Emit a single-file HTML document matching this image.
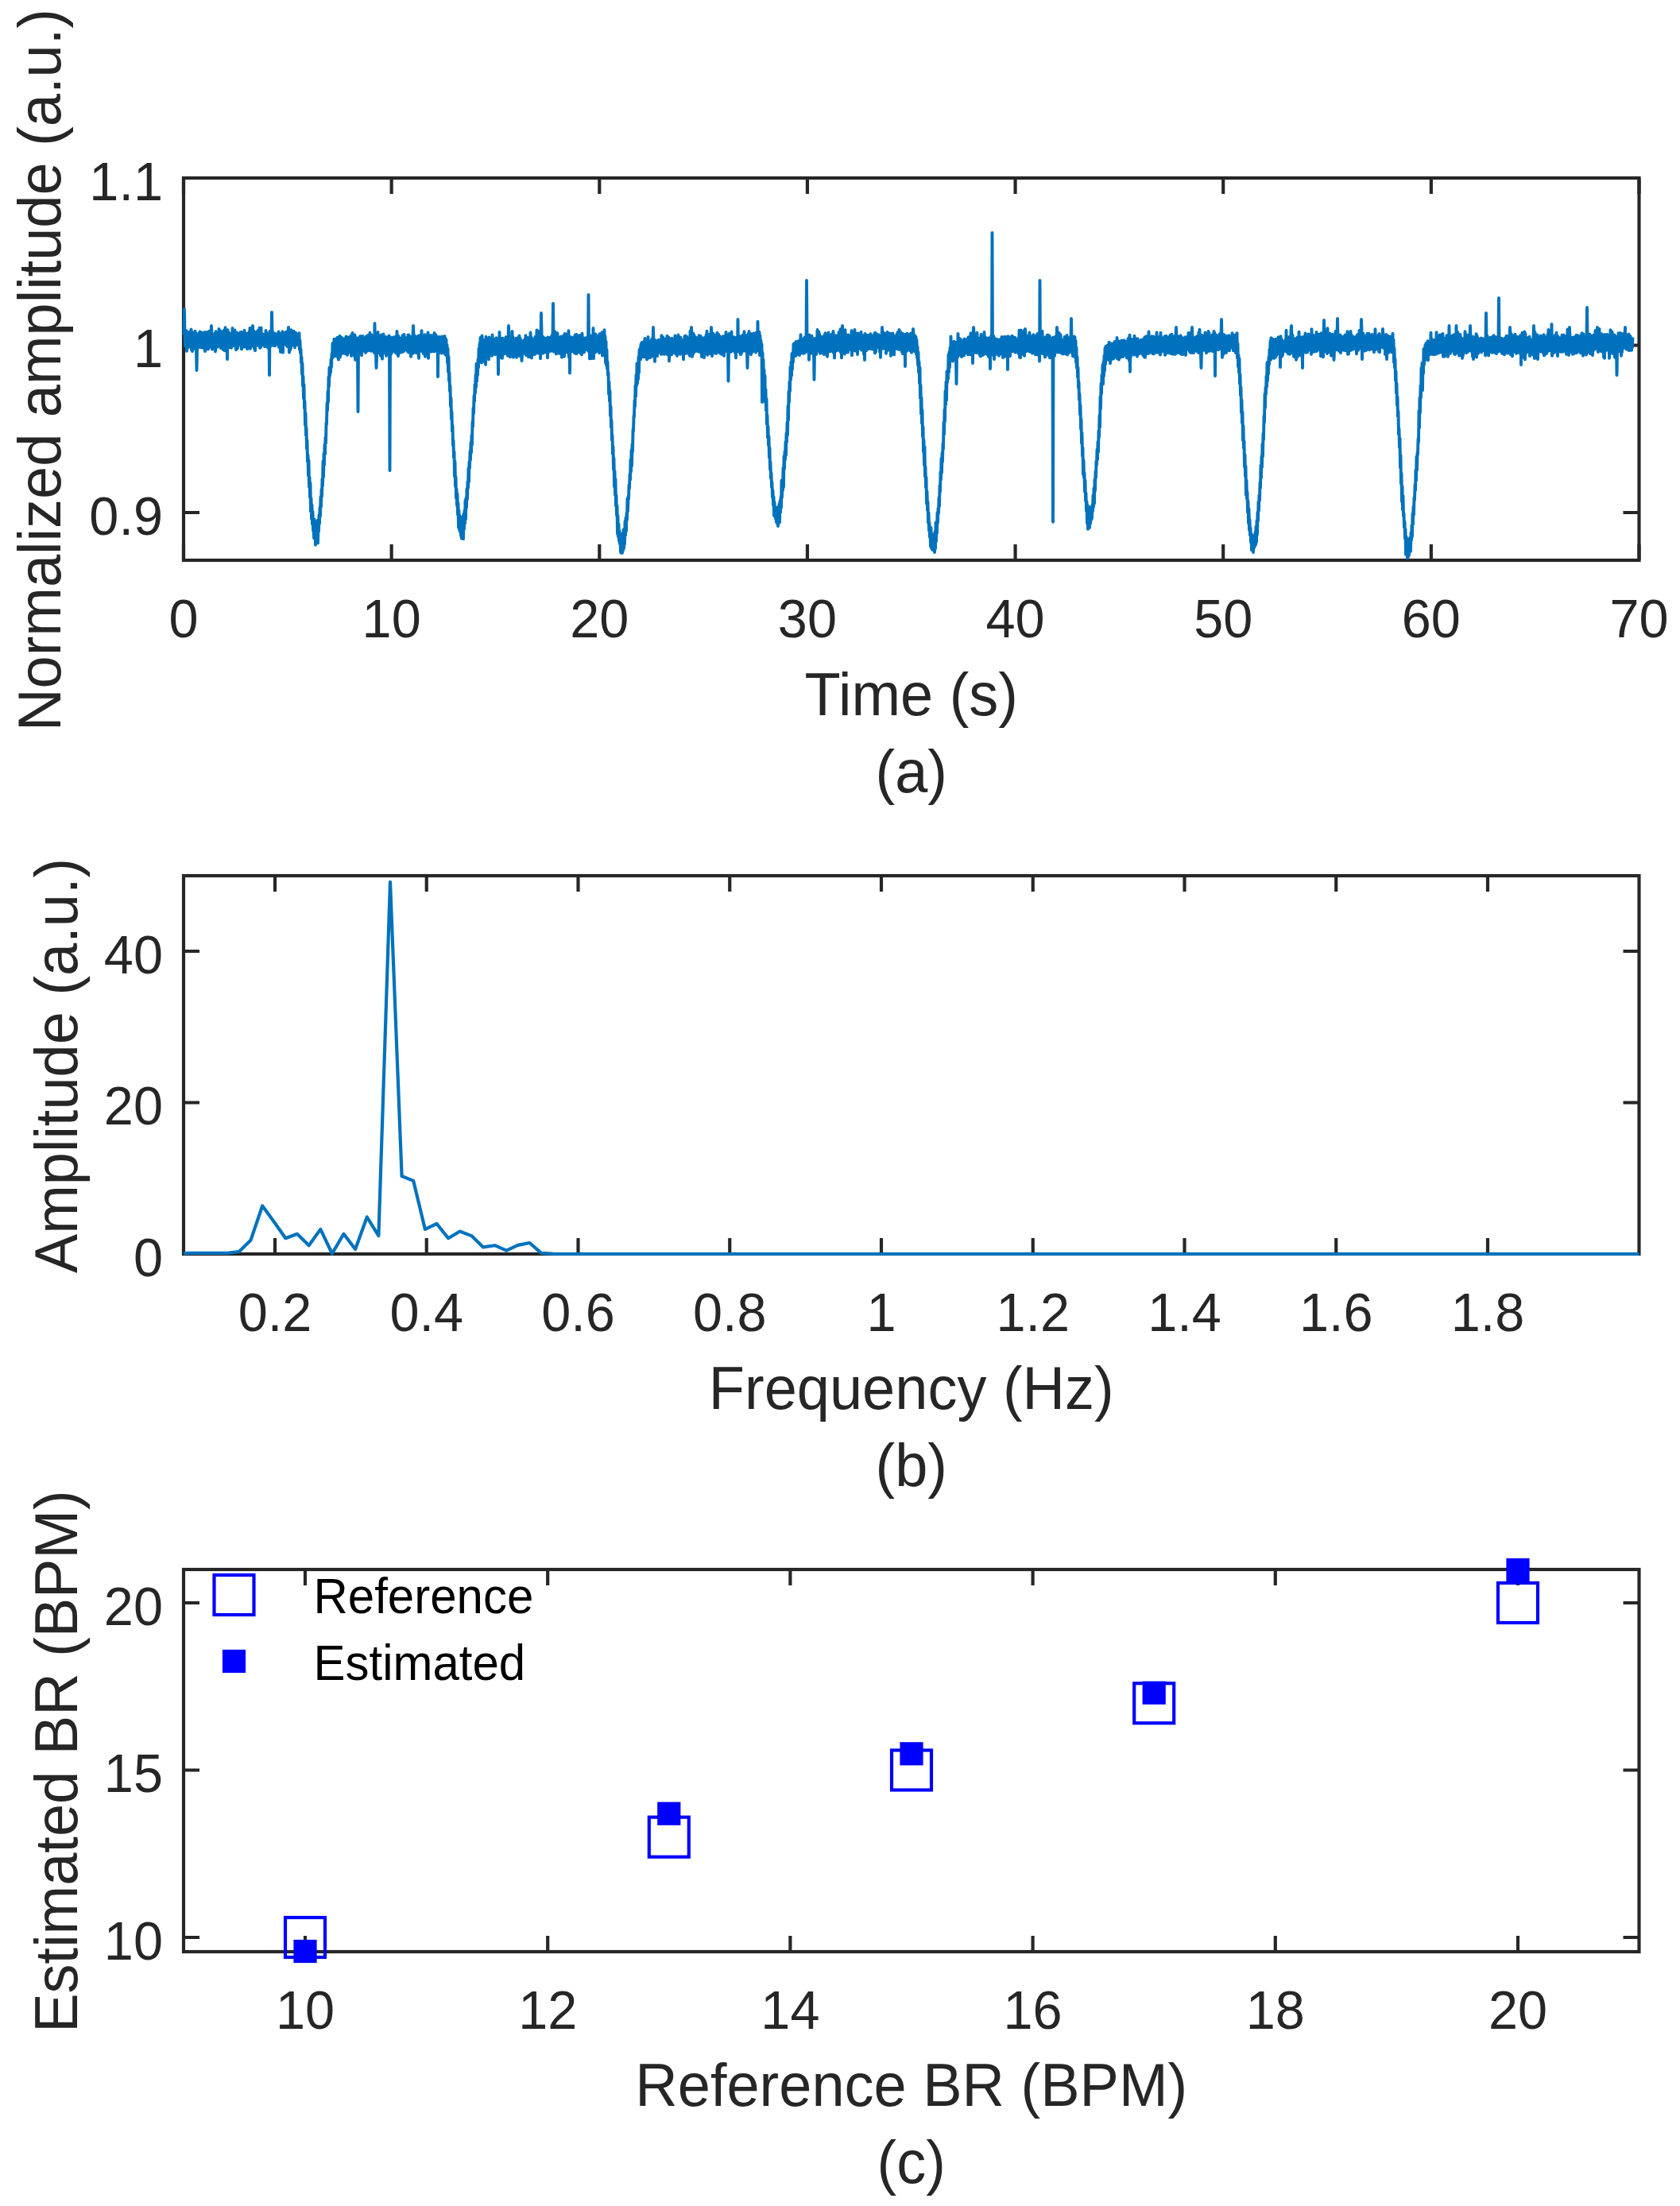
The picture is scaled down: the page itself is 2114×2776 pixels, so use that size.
<!DOCTYPE html>
<html lang="en"><head><meta charset="utf-8"><title>Figure</title>
<style>
html,body{margin:0;padding:0;background:#fff;overflow:hidden}
svg{display:block}
text{font-family:"Liberation Sans", Arial, Helvetica, sans-serif;white-space:pre}
</style></head>
<body>
<svg width="2114" height="2776" viewBox="0 0 2114 2776">
<rect width="2114" height="2776" fill="#fff"/>
<!-- panel a -->
<path d="M231.00 705.00v-20M231.00 224.00v20M492.64 705.00v-20M492.64 224.00v20M754.29 705.00v-20M754.29 224.00v20M1015.93 705.00v-20M1015.93 224.00v20M1277.57 705.00v-20M1277.57 224.00v20M1539.21 705.00v-20M1539.21 224.00v20M1800.86 705.00v-20M1800.86 224.00v20M2062.50 705.00v-20M2062.50 224.00v20M231.00 224.00h20M2062.50 224.00h-20M231.00 434.50h20M2062.50 434.50h-20M231.00 645.00h20M2062.50 645.00h-20" stroke="#262626" stroke-width="4.17" fill="none"/>
<rect x="231.00" y="224.00" width="1831.50" height="481.00" fill="none" stroke="#262626" stroke-width="4.17"/>
<g font-size="66.67" fill="#262626">
<g text-anchor="middle">
<text transform="translate(231.00 801.50) scale(1 1.035)">0</text>
<text transform="translate(492.64 801.50) scale(1 1.035)">10</text>
<text transform="translate(754.29 801.50) scale(1 1.035)">20</text>
<text transform="translate(1015.93 801.50) scale(1 1.035)">30</text>
<text transform="translate(1277.57 801.50) scale(1 1.035)">40</text>
<text transform="translate(1539.21 801.50) scale(1 1.035)">50</text>
<text transform="translate(1800.86 801.50) scale(1 1.035)">60</text>
<text transform="translate(2062.50 801.50) scale(1 1.035)">70</text>
</g><g text-anchor="end">
<text transform="translate(205.00 251.50) scale(1 1.035)">1.1</text>
<text transform="translate(205.00 462.00) scale(1 1.035)">1</text>
<text transform="translate(205.00 672.50) scale(1 1.035)">0.9</text>
</g></g>
<g font-size="74" fill="#262626" text-anchor="middle">
<text transform="translate(1146.75 899.50) scale(1 1.035)">Time (s)</text>
<text transform="translate(1146.75 997.00) scale(1 1.035)">(a)</text>
<text transform="translate(76.00 465.50) rotate(-90) scale(1 1.035)">Normalized amplitude (a.u.)</text>
</g>
<polyline points="231.5,421.3 232.0,389.0 232.5,422.3 233.0,435.4 233.5,422.2 234.0,436.1 234.5,416.3 235.0,441.7 235.5,422.9 236.0,437.7 236.5,418.4 237.0,436.9 237.5,418.0 238.0,435.8 238.5,420.9 239.0,435.9 239.5,418.9 240.0,436.3 240.5,414.4 241.0,440.3 241.5,417.4 242.0,442.0 242.5,419.3 243.0,435.0 243.5,423.6 244.0,434.4 244.5,419.1 245.0,436.2 245.5,416.8 246.0,439.7 246.5,419.2 247.0,439.1 247.5,466.0 248.0,440.2 248.5,420.7 249.0,437.0 249.5,421.6 250.0,435.6 250.5,419.2 251.0,436.8 251.5,417.4 252.0,435.9 252.5,421.3 253.0,437.4 253.5,418.2 254.0,437.0 254.5,421.5 255.0,437.3 255.5,420.1 256.0,438.0 256.5,418.9 257.0,436.0 257.5,417.9 258.0,442.0 258.5,421.2 259.0,439.8 259.5,420.4 260.0,438.5 260.5,417.9 261.0,436.2 261.5,417.9 262.0,439.4 262.5,420.9 263.0,436.3 263.5,416.6 264.0,433.8 264.5,420.0 265.0,436.7 265.5,420.4 266.0,410.0 266.5,421.7 267.0,439.6 267.5,420.1 268.0,435.1 268.5,421.0 269.0,437.7 269.5,420.4 270.0,437.5 270.5,419.4 271.0,442.3 271.5,417.3 272.0,436.3 272.5,419.1 273.0,436.0 273.5,420.9 274.0,436.6 274.5,418.4 275.0,435.8 275.5,413.9 276.0,434.4 276.5,420.0 277.0,435.0 277.5,416.5 278.0,438.1 278.5,421.1 279.0,432.3 279.5,420.9 280.0,437.1 280.5,419.6 281.0,440.2 281.5,415.9 282.0,435.1 282.5,417.9 283.0,441.4 283.5,412.2 284.0,436.8 284.5,418.8 285.0,436.8 285.5,419.2 286.0,452.0 286.5,415.2 287.0,434.6 287.5,417.8 288.0,437.1 288.5,420.8 289.0,433.4 289.5,419.9 290.0,432.8 290.5,421.3 291.0,437.7 291.5,420.0 292.0,435.2 292.5,413.0 293.0,434.9 293.5,420.5 294.0,434.4 294.5,419.6 295.0,435.4 295.5,415.4 296.0,434.3 296.5,418.4 297.0,440.1 297.5,418.6 298.0,433.8 298.5,418.8 299.0,438.2 299.5,419.7 300.0,434.3 300.5,420.9 301.0,432.8 301.5,419.4 302.0,434.4 302.5,417.9 303.0,433.8 303.5,417.7 304.0,439.4 304.5,421.4 305.0,436.4 305.5,419.9 306.0,435.6 306.5,419.6 307.0,436.8 307.5,415.8 308.0,435.4 308.5,418.9 309.0,436.3 309.5,420.3 310.0,434.5 310.5,421.1 311.0,439.0 311.5,419.8 312.0,436.1 312.5,419.2 313.0,438.3 313.5,417.4 314.0,438.3 314.5,412.8 315.0,438.8 315.5,419.7 316.0,433.1 316.5,419.3 317.0,435.4 317.5,419.4 318.0,410.0 318.5,419.8 319.0,433.5 319.5,416.8 320.0,438.5 320.5,420.0 321.0,441.1 321.5,418.8 322.0,433.9 322.5,422.0 323.0,433.2 323.5,417.2 324.0,434.7 324.5,415.9 325.0,432.6 325.5,418.0 326.0,434.6 326.5,412.7 327.0,437.8 327.5,417.2 328.0,437.2 328.5,412.5 329.0,433.0 329.5,420.3 330.0,432.7 330.5,421.0 331.0,434.1 331.5,420.8 332.0,432.9 332.5,422.3 333.0,436.2 333.5,421.3 334.0,434.4 334.5,415.9 335.0,435.3 335.5,418.5 336.0,435.8 336.5,420.1 337.0,437.6 337.5,420.2 338.0,436.9 338.5,420.2 339.0,472.0 339.5,416.9 340.0,436.5 340.5,419.9 341.0,434.9 341.5,421.4 342.0,393.0 342.5,418.4 343.0,434.4 343.5,418.1 344.0,434.8 344.5,419.6 345.0,434.8 345.5,419.6 346.0,435.2 346.5,420.0 347.0,432.9 347.5,421.6 348.0,433.3 348.5,421.9 349.0,432.8 349.5,419.9 350.0,433.8 350.5,417.5 351.0,437.0 351.5,418.9 352.0,435.6 352.5,420.9 353.0,442.9 353.5,421.3 354.0,431.1 354.5,421.8 355.0,430.3 355.5,417.3 356.0,443.5 356.5,420.4 357.0,431.3 357.5,420.3 358.0,432.1 358.5,422.2 359.0,432.8 359.5,417.9 360.0,433.7 360.5,418.9 361.0,435.4 361.5,417.3 362.0,436.2 362.5,417.4 363.0,412.0 363.5,415.2 364.0,443.5 364.5,417.7 365.0,440.8 365.5,418.4 366.0,438.2 366.5,415.3 367.0,434.8 367.5,421.0 368.0,433.7 368.5,420.0 369.0,433.5 369.5,416.6 370.0,434.8 370.5,418.0 371.0,437.2 371.5,418.7 372.0,434.5 372.5,418.9 373.0,431.9 373.5,422.4 374.0,433.6 374.5,421.8 375.0,432.1 375.5,421.1 376.0,435.3 376.5,419.2 377.0,440.0 377.5,428.5 378.0,444.1 378.5,439.3 379.0,456.2 379.5,449.3 380.0,470.8 380.5,457.2 381.0,485.4 381.5,473.6 382.0,501.4 382.5,484.0 383.0,513.6 383.5,505.1 384.0,535.0 384.5,519.9 385.0,547.8 385.5,538.5 386.0,564.7 386.5,554.5 387.0,580.7 387.5,572.7 388.0,598.5 388.5,579.1 389.0,612.7 389.5,600.6 390.0,625.4 390.5,607.6 391.0,643.5 391.5,627.0 392.0,652.9 392.5,635.3 393.0,659.5 393.5,643.9 394.0,667.5 394.5,653.1 395.0,677.0 395.5,653.4 396.0,677.7 396.5,661.4 397.0,685.6 397.5,662.4 398.0,679.2 398.5,658.0 399.0,679.2 399.5,654.9 400.0,683.4 400.5,654.5 401.0,669.0 401.5,648.1 402.0,658.9 402.5,638.7 403.0,649.6 403.5,625.1 404.0,637.7 404.5,616.3 405.0,624.6 405.5,602.6 406.0,611.1 406.5,580.4 407.0,600.1 407.5,570.9 408.0,585.2 408.5,559.8 409.0,571.5 409.5,550.5 410.0,557.6 410.5,532.0 411.0,534.2 411.5,507.4 412.0,516.4 412.5,493.0 413.0,506.2 413.5,474.5 414.0,486.2 414.5,462.5 415.0,473.2 415.5,463.9 416.0,468.5 416.5,452.5 417.0,462.3 417.5,445.2 418.0,451.0 418.5,432.0 419.0,449.2 419.5,433.0 420.0,448.6 420.5,426.6 421.0,448.2 421.5,426.6 422.0,447.8 422.5,432.0 423.0,445.1 423.5,431.0 424.0,445.5 424.5,424.6 425.0,449.8 425.5,425.9 426.0,452.5 426.5,428.3 427.0,446.0 427.5,422.7 428.0,449.3 428.5,428.4 429.0,444.5 429.5,424.4 430.0,444.9 430.5,428.2 431.0,444.4 431.5,426.2 432.0,444.5 432.5,429.5 433.0,442.7 433.5,426.4 434.0,445.0 434.5,427.6 435.0,443.6 435.5,423.4 436.0,443.3 436.5,428.0 437.0,446.7 437.5,425.7 438.0,444.1 438.5,424.5 439.0,441.4 439.5,427.5 440.0,442.0 440.5,426.6 441.0,441.6 441.5,422.1 442.0,447.8 442.5,425.6 443.0,444.7 443.5,418.9 444.0,445.3 444.5,426.2 445.0,446.5 445.5,422.1 446.0,448.1 446.5,421.4 447.0,452.7 447.5,424.8 448.0,447.4 448.5,425.2 449.0,448.1 449.5,425.7 450.0,448.1 450.5,518.0 451.0,442.6 451.5,425.3 452.0,443.5 452.5,424.0 453.0,441.2 453.5,423.0 454.0,442.3 454.5,423.5 455.0,447.1 455.5,426.9 456.0,439.9 456.5,422.9 457.0,441.6 457.5,425.3 458.0,441.3 458.5,426.8 459.0,441.8 459.5,427.1 460.0,443.9 460.5,423.8 461.0,440.2 461.5,423.0 462.0,441.7 462.5,427.7 463.0,439.3 463.5,421.7 464.0,440.8 464.5,425.8 465.0,440.7 465.5,418.7 466.0,441.5 466.5,422.1 467.0,440.9 467.5,421.5 468.0,441.6 468.5,426.0 469.0,440.2 469.5,425.4 470.0,441.5 470.5,424.3 471.0,444.0 471.5,407.0 472.0,444.4 472.5,420.4 473.0,445.7 473.5,463.0 474.0,451.4 474.5,421.8 475.0,444.7 475.5,418.0 476.0,443.0 476.5,424.1 477.0,442.1 477.5,425.2 478.0,443.9 478.5,422.9 479.0,447.6 479.5,421.4 480.0,443.8 480.5,424.3 481.0,451.6 481.5,425.4 482.0,445.0 482.5,420.4 483.0,440.3 483.5,426.0 484.0,440.8 484.5,426.1 485.0,441.3 485.5,423.9 486.0,447.8 486.5,425.2 487.0,441.4 487.5,424.4 488.0,444.8 488.5,424.4 489.0,442.9 489.5,422.5 490.0,440.6 490.5,592.0 491.0,443.9 491.5,424.4 492.0,445.7 492.5,428.5 493.0,438.1 493.5,428.5 494.0,442.9 494.5,424.6 495.0,440.2 495.5,424.3 496.0,440.3 496.5,425.0 497.0,441.4 497.5,424.0 498.0,443.9 498.5,423.4 499.0,444.8 499.5,416.9 500.0,445.2 500.5,423.9 501.0,448.0 501.5,423.0 502.0,442.4 502.5,426.2 503.0,444.0 503.5,425.6 504.0,441.9 504.5,427.4 505.0,439.3 505.5,425.6 506.0,443.2 506.5,422.2 507.0,442.4 507.5,424.3 508.0,442.1 508.5,420.9 509.0,439.5 509.5,427.2 510.0,438.3 510.5,425.1 511.0,439.9 511.5,426.9 512.0,440.9 512.5,424.8 513.0,442.2 513.5,421.5 514.0,443.5 514.5,421.8 515.0,442.1 515.5,422.9 516.0,442.5 516.5,427.1 517.0,448.8 517.5,425.9 518.0,437.6 518.5,423.7 519.0,445.0 519.5,425.5 520.0,410.0 520.5,420.3 521.0,439.8 521.5,425.3 522.0,443.8 522.5,423.0 523.0,438.0 523.5,426.8 524.0,440.4 524.5,424.5 525.0,444.3 525.5,425.9 526.0,439.7 526.5,422.4 527.0,450.8 527.5,422.8 528.0,441.1 528.5,422.8 529.0,440.1 529.5,421.6 530.0,438.3 530.5,416.1 531.0,442.2 531.5,424.8 532.0,439.8 532.5,424.2 533.0,445.1 533.5,423.4 534.0,442.0 534.5,421.1 535.0,448.7 535.5,423.6 536.0,439.9 536.5,423.1 537.0,441.5 537.5,424.9 538.0,441.1 538.5,418.4 539.0,450.7 539.5,423.1 540.0,442.4 540.5,422.1 541.0,440.9 541.5,422.6 542.0,442.5 542.5,421.9 543.0,442.2 543.5,422.9 544.0,438.8 544.5,422.4 545.0,440.8 545.5,422.6 546.0,442.3 546.5,419.0 547.0,442.1 547.5,420.4 548.0,438.6 548.5,421.4 549.0,438.2 549.5,426.1 550.0,439.2 550.5,424.3 551.0,474.0 551.5,424.2 552.0,444.0 552.5,424.0 553.0,441.2 553.5,423.9 554.0,440.1 554.5,425.0 555.0,444.1 555.5,425.1 556.0,444.5 556.5,423.5 557.0,440.9 557.5,424.1 558.0,439.9 558.5,424.4 559.0,442.1 559.5,422.9 560.0,445.7 560.5,425.7 561.0,438.3 561.5,427.5 562.0,447.7 562.5,434.2 563.0,456.3 563.5,438.7 564.0,467.8 564.5,448.7 565.0,479.3 565.5,468.9 566.0,492.1 566.5,485.5 567.0,511.2 567.5,501.0 568.0,527.2 568.5,518.3 569.0,542.8 569.5,535.6 570.0,560.4 570.5,554.3 571.0,576.0 571.5,569.0 572.0,599.7 572.5,580.7 573.0,612.0 573.5,600.0 574.0,626.8 574.5,615.5 575.0,636.3 575.5,621.7 576.0,647.5 576.5,633.2 577.0,663.6 577.5,642.8 578.0,666.8 578.5,649.2 579.0,669.4 579.5,655.8 580.0,674.2 580.5,653.8 581.0,677.6 581.5,652.6 582.0,673.2 582.5,649.3 583.0,678.1 583.5,646.6 584.0,666.0 584.5,642.7 585.0,658.6 585.5,629.5 586.0,653.3 586.5,626.4 587.0,638.8 587.5,615.0 588.0,628.2 588.5,606.1 589.0,614.2 589.5,589.3 590.0,606.4 590.5,581.1 591.0,588.7 591.5,568.1 592.0,578.8 592.5,557.1 593.0,569.4 593.5,547.8 594.0,559.4 594.5,530.8 595.0,536.8 595.5,513.5 596.0,520.2 596.5,498.0 597.0,505.2 597.5,484.1 598.0,494.8 598.5,472.0 599.0,487.4 599.5,457.6 600.0,479.7 600.5,462.3 601.0,472.3 601.5,452.5 602.0,462.5 602.5,438.6 603.0,455.5 603.5,432.3 604.0,451.7 604.5,425.0 605.0,451.9 605.5,431.0 606.0,456.4 606.5,422.4 607.0,450.4 607.5,431.8 608.0,454.9 608.5,431.9 609.0,450.5 609.5,428.0 610.0,452.3 610.5,429.1 611.0,458.7 611.5,423.7 612.0,447.0 612.5,426.4 613.0,447.6 613.5,432.1 614.0,446.9 614.5,429.0 615.0,452.2 615.5,424.4 616.0,446.7 616.5,430.3 617.0,444.0 617.5,432.9 618.0,444.0 618.5,432.5 619.0,447.8 619.5,421.5 620.0,442.8 620.5,433.1 621.0,443.2 621.5,428.0 622.0,445.2 622.5,426.7 623.0,446.1 623.5,428.6 624.0,444.3 624.5,425.1 625.0,443.4 625.5,432.0 626.0,443.9 626.5,428.8 627.0,471.0 627.5,425.7 628.0,443.8 628.5,418.0 629.0,446.7 629.5,427.8 630.0,446.8 630.5,426.1 631.0,450.4 631.5,425.7 632.0,450.7 632.5,425.6 633.0,445.4 633.5,428.0 634.0,445.5 634.5,428.2 635.0,443.5 635.5,429.7 636.0,443.4 636.5,424.1 637.0,445.1 637.5,429.1 638.0,445.2 638.5,423.9 639.0,447.7 639.5,427.7 640.0,410.0 640.5,425.3 641.0,445.3 641.5,426.3 642.0,449.2 642.5,428.0 643.0,445.6 643.5,426.0 644.0,444.6 644.5,416.9 645.0,445.4 645.5,424.0 646.0,449.6 646.5,427.9 647.0,445.4 647.5,428.3 648.0,444.9 648.5,427.0 649.0,445.4 649.5,425.6 650.0,449.8 650.5,429.4 651.0,444.2 651.5,426.8 652.0,446.0 652.5,424.2 653.0,447.4 653.5,422.5 654.0,448.0 654.5,425.6 655.0,446.7 655.5,428.2 656.0,441.4 656.5,454.0 657.0,446.5 657.5,429.2 658.0,442.4 658.5,428.9 659.0,444.6 659.5,428.6 660.0,443.2 660.5,426.7 661.0,443.2 661.5,422.3 662.0,447.0 662.5,425.5 663.0,441.8 663.5,425.7 664.0,447.0 664.5,424.9 665.0,449.1 665.5,425.7 666.0,445.0 666.5,425.2 667.0,448.7 667.5,418.5 668.0,444.9 668.5,424.3 669.0,450.4 669.5,426.1 670.0,446.6 670.5,429.1 671.0,439.3 671.5,427.9 672.0,443.8 672.5,426.8 673.0,445.9 673.5,423.6 674.0,443.9 674.5,426.1 675.0,443.8 675.5,415.4 676.0,444.3 676.5,427.1 677.0,443.0 677.5,417.3 678.0,444.4 678.5,417.2 679.0,442.9 679.5,426.2 680.0,451.1 680.5,423.6 681.0,394.0 681.5,416.9 682.0,444.1 682.5,423.7 683.0,444.6 683.5,423.9 684.0,444.2 684.5,425.3 685.0,442.5 685.5,426.9 686.0,441.7 686.5,425.6 687.0,443.3 687.5,426.8 688.0,441.8 688.5,425.3 689.0,450.1 689.5,424.4 690.0,443.2 690.5,427.3 691.0,439.3 691.5,428.2 692.0,439.2 692.5,424.8 693.0,441.9 693.5,426.4 694.0,440.2 694.5,421.9 695.0,441.1 695.5,426.0 696.0,382.0 696.5,426.1 697.0,442.8 697.5,423.2 698.0,440.4 698.5,417.4 699.0,442.0 699.5,421.6 700.0,445.4 700.5,421.9 701.0,444.0 701.5,419.3 702.0,443.6 702.5,424.5 703.0,441.0 703.5,428.2 704.0,444.9 704.5,424.2 705.0,442.7 705.5,427.3 706.0,444.1 706.5,423.4 707.0,449.6 707.5,423.5 708.0,445.2 708.5,426.2 709.0,444.5 709.5,422.2 710.0,448.5 710.5,420.0 711.0,441.7 711.5,423.3 712.0,442.8 712.5,420.4 713.0,442.3 713.5,425.8 714.0,443.8 714.5,426.4 715.0,441.0 715.5,416.2 716.0,449.5 716.5,425.0 717.0,469.6 717.5,426.7 718.0,441.6 718.5,424.1 719.0,442.2 719.5,425.6 720.0,442.3 720.5,425.9 721.0,440.0 721.5,424.8 722.0,440.9 722.5,425.3 723.0,444.3 723.5,421.6 724.0,442.8 724.5,421.2 725.0,445.1 725.5,421.0 726.0,442.3 726.5,424.3 727.0,440.2 727.5,422.2 728.0,443.5 728.5,423.9 729.0,443.0 729.5,424.7 730.0,443.0 730.5,421.9 731.0,445.0 731.5,423.5 732.0,446.3 732.5,419.6 733.0,439.8 733.5,426.2 734.0,440.5 734.5,425.3 735.0,443.2 735.5,427.2 736.0,438.8 736.5,425.7 737.0,438.9 737.5,425.2 738.0,439.6 738.5,425.2 739.0,440.2 739.5,423.7 740.0,441.8 740.5,371.0 741.0,441.9 741.5,423.4 742.0,451.4 742.5,423.0 743.0,445.8 743.5,422.4 744.0,451.1 744.5,423.8 745.0,441.4 745.5,422.8 746.0,441.4 746.5,413.0 747.0,451.0 747.5,425.6 748.0,436.7 748.5,422.8 749.0,443.4 749.5,420.4 750.0,442.4 750.5,423.8 751.0,437.3 751.5,425.0 752.0,438.4 752.5,422.7 753.0,441.6 753.5,422.8 754.0,444.1 754.5,420.2 755.0,443.3 755.5,421.7 756.0,443.1 756.5,422.9 757.0,442.9 757.5,418.3 758.0,447.5 758.5,424.2 759.0,439.5 759.5,424.4 760.0,441.5 760.5,415.1 761.0,443.2 761.5,423.2 762.0,456.5 762.5,429.6 763.0,459.4 763.5,440.3 764.0,463.9 764.5,455.5 765.0,472.3 765.5,469.0 766.0,495.7 766.5,481.0 767.0,505.0 767.5,491.8 768.0,523.2 768.5,511.4 769.0,537.4 769.5,529.3 770.0,553.7 770.5,547.5 771.0,571.5 771.5,562.0 772.0,590.9 772.5,577.0 773.0,612.3 773.5,592.9 774.0,622.8 774.5,603.3 775.0,636.4 775.5,623.5 776.0,648.5 776.5,636.6 777.0,671.7 777.5,649.2 778.0,675.7 778.5,659.6 779.0,680.8 779.5,668.1 780.0,684.4 780.5,672.5 781.0,695.0 781.5,671.9 782.0,696.1 782.5,672.3 783.0,695.8 783.5,671.9 784.0,692.8 784.5,666.8 785.0,690.0 785.5,665.8 786.0,684.6 786.5,656.0 787.0,673.5 787.5,651.4 788.0,668.2 788.5,646.0 789.0,654.1 789.5,627.4 790.0,643.2 790.5,624.7 791.0,627.9 791.5,610.1 792.0,614.8 792.5,596.7 793.0,603.9 793.5,578.8 794.0,593.5 794.5,566.8 795.0,586.2 795.5,559.4 796.0,568.3 796.5,540.6 797.0,542.5 797.5,523.3 798.0,523.9 798.5,504.0 799.0,511.4 799.5,485.2 800.0,498.8 800.5,471.6 801.0,485.4 801.5,457.3 802.0,482.4 802.5,459.7 803.0,477.3 803.5,449.3 804.0,469.0 804.5,440.4 805.0,452.7 805.5,438.1 806.0,452.4 806.5,433.2 807.0,446.8 807.5,430.9 808.0,446.0 808.5,433.0 809.0,449.1 809.5,432.3 810.0,449.2 810.5,429.8 811.0,446.2 811.5,426.0 812.0,447.1 812.5,428.6 813.0,449.6 813.5,429.8 814.0,452.4 814.5,429.9 815.0,448.3 815.5,423.9 816.0,446.1 816.5,429.4 817.0,450.4 817.5,431.6 818.0,446.6 818.5,430.1 819.0,449.6 819.5,428.1 820.0,447.0 820.5,426.1 821.0,447.2 821.5,431.3 822.0,412.0 822.5,427.8 823.0,448.9 823.5,428.0 824.0,454.9 824.5,428.3 825.0,445.7 825.5,429.0 826.0,443.5 826.5,432.3 827.0,448.1 827.5,429.2 828.0,442.1 828.5,427.6 829.0,443.3 829.5,430.8 830.0,443.8 830.5,427.9 831.0,443.8 831.5,427.7 832.0,445.9 832.5,422.1 833.0,444.0 833.5,423.6 834.0,443.8 834.5,424.8 835.0,445.4 835.5,427.4 836.0,445.8 836.5,427.7 837.0,444.5 837.5,426.7 838.0,445.1 838.5,429.4 839.0,443.6 839.5,422.7 840.0,446.3 840.5,427.3 841.0,443.4 841.5,424.5 842.0,454.3 842.5,429.7 843.0,442.3 843.5,427.7 844.0,442.2 844.5,427.3 845.0,446.4 845.5,425.6 846.0,443.9 846.5,427.7 847.0,443.7 847.5,430.2 848.0,440.4 848.5,429.0 849.0,439.5 849.5,422.4 850.0,445.3 850.5,423.8 851.0,444.0 851.5,425.4 852.0,447.7 852.5,424.8 853.0,441.0 853.5,421.5 854.0,443.8 854.5,425.3 855.0,445.0 855.5,424.5 856.0,445.8 856.5,424.6 857.0,443.9 857.5,429.1 858.0,438.0 858.5,428.2 859.0,443.3 859.5,428.9 860.0,452.3 860.5,427.6 861.0,441.6 861.5,423.3 862.0,444.8 862.5,422.5 863.0,441.7 863.5,423.3 864.0,443.2 864.5,424.0 865.0,444.6 865.5,425.6 866.0,440.5 866.5,426.3 867.0,444.5 867.5,425.6 868.0,447.7 868.5,416.7 869.0,444.3 869.5,423.2 870.0,412.0 870.5,421.3 871.0,448.7 871.5,424.8 872.0,445.4 872.5,419.8 873.0,443.6 873.5,421.6 874.0,442.3 874.5,424.0 875.0,442.1 875.5,426.1 876.0,441.3 876.5,424.9 877.0,438.6 877.5,427.3 878.0,441.7 878.5,424.7 879.0,442.6 879.5,422.2 880.0,441.9 880.5,423.4 881.0,440.1 881.5,422.8 882.0,443.9 882.5,425.5 883.0,448.9 883.5,425.1 884.0,441.2 884.5,426.1 885.0,441.9 885.5,425.9 886.0,450.0 886.5,424.9 887.0,440.4 887.5,426.2 888.0,442.5 888.5,421.7 889.0,443.0 889.5,416.7 890.0,446.7 890.5,420.6 891.0,445.3 891.5,423.2 892.0,442.7 892.5,423.2 893.0,445.1 893.5,420.8 894.0,442.5 894.5,426.4 895.0,412.0 895.5,425.8 896.0,448.0 896.5,426.0 897.0,443.7 897.5,419.6 898.0,440.1 898.5,425.0 899.0,444.3 899.5,425.6 900.0,441.7 900.5,421.8 901.0,444.9 901.5,425.1 902.0,440.0 902.5,418.6 903.0,441.9 903.5,425.0 904.0,443.2 904.5,421.1 905.0,441.3 905.5,422.9 906.0,444.5 906.5,425.5 907.0,439.9 907.5,426.2 908.0,445.8 908.5,427.5 909.0,442.5 909.5,423.2 910.0,442.3 910.5,425.6 911.0,447.8 911.5,423.2 912.0,442.8 912.5,424.5 913.0,441.7 913.5,418.0 914.0,439.6 914.5,423.0 915.0,439.1 915.5,424.5 916.0,440.3 916.5,479.5 917.0,438.9 917.5,420.0 918.0,440.9 918.5,420.1 919.0,438.8 919.5,420.3 920.0,442.7 920.5,417.5 921.0,441.6 921.5,424.0 922.0,438.8 922.5,426.1 923.0,440.7 923.5,424.3 924.0,440.3 924.5,425.1 925.0,444.0 925.5,427.0 926.0,450.3 926.5,424.8 927.0,439.4 927.5,425.6 928.0,440.1 928.5,402.0 929.0,442.2 929.5,424.8 930.0,441.3 930.5,424.4 931.0,443.7 931.5,423.1 932.0,446.1 932.5,424.9 933.0,444.5 933.5,425.2 934.0,442.2 934.5,421.7 935.0,441.2 935.5,426.5 936.0,440.6 936.5,417.1 937.0,441.4 937.5,425.2 938.0,441.7 938.5,423.9 939.0,439.8 939.5,422.3 940.0,443.2 940.5,463.0 941.0,441.1 941.5,420.4 942.0,442.4 942.5,417.0 943.0,443.3 943.5,421.4 944.0,443.8 944.5,420.2 945.0,446.1 945.5,420.1 946.0,442.2 946.5,421.8 947.0,442.9 947.5,423.6 948.0,439.7 948.5,419.4 949.0,440.5 949.5,420.8 950.0,439.5 950.5,422.0 951.0,443.4 951.5,418.6 952.0,436.8 952.5,421.4 953.0,441.4 953.5,404.6 954.0,440.2 954.5,420.6 955.0,440.8 955.5,418.0 956.0,447.0 956.5,422.4 957.0,443.4 957.5,428.8 958.0,447.0 958.5,433.0 959.0,506.0 959.5,443.6 960.0,465.4 960.5,452.8 961.0,476.8 961.5,465.5 962.0,489.6 962.5,472.8 963.0,506.1 963.5,490.3 964.0,516.5 964.5,501.9 965.0,534.0 965.5,522.6 966.0,550.8 966.5,536.7 967.0,560.2 967.5,549.1 968.0,576.0 968.5,563.5 969.0,590.6 969.5,581.4 970.0,601.9 970.5,595.3 971.0,613.3 971.5,607.1 972.0,625.6 972.5,616.9 973.0,635.8 973.5,625.1 974.0,648.6 974.5,631.7 975.0,650.0 975.5,638.1 976.0,653.0 976.5,641.1 977.0,657.1 977.5,638.5 978.0,658.4 978.5,642.5 979.0,662.0 979.5,639.7 980.0,657.2 980.5,634.1 981.0,657.4 981.5,630.5 982.0,645.0 982.5,625.8 983.0,638.8 983.5,604.5 984.0,625.8 984.5,604.8 985.0,616.9 985.5,588.8 986.0,612.6 986.5,574.2 987.0,589.8 987.5,568.5 988.0,578.3 988.5,556.1 989.0,572.6 989.5,545.5 990.0,556.2 990.5,531.8 991.0,547.1 991.5,510.9 992.0,528.6 992.5,492.9 993.0,506.0 993.5,480.5 994.0,492.1 994.5,461.8 995.0,478.0 995.5,455.4 996.0,472.6 996.5,444.9 997.0,464.4 997.5,443.8 998.0,455.8 998.5,433.0 999.0,446.3 999.5,432.2 1000.0,443.9 1000.5,431.8 1001.0,448.0 1001.5,430.0 1002.0,447.0 1002.5,430.9 1003.0,445.8 1003.5,430.7 1004.0,444.9 1004.5,429.2 1005.0,444.3 1005.5,430.5 1006.0,447.0 1006.5,429.5 1007.0,442.8 1007.5,421.1 1008.0,443.7 1008.5,431.2 1009.0,444.2 1009.5,428.8 1010.0,443.7 1010.5,428.3 1011.0,444.8 1011.5,425.9 1012.0,443.0 1012.5,424.5 1013.0,443.7 1013.5,425.8 1014.0,442.3 1014.5,428.7 1015.0,353.0 1015.5,427.0 1016.0,442.4 1016.5,425.8 1017.0,442.0 1017.5,425.2 1018.0,452.7 1018.5,421.4 1019.0,445.4 1019.5,426.2 1020.0,442.5 1020.5,425.6 1021.0,441.6 1021.5,422.7 1022.0,442.5 1022.5,426.0 1023.0,445.5 1023.5,426.4 1024.0,444.7 1024.5,477.7 1025.0,442.6 1025.5,426.0 1026.0,446.0 1026.5,426.3 1027.0,445.9 1027.5,427.0 1028.0,439.1 1028.5,415.0 1029.0,440.0 1029.5,425.7 1030.0,441.0 1030.5,417.7 1031.0,442.9 1031.5,421.2 1032.0,444.8 1032.5,424.1 1033.0,443.2 1033.5,424.3 1034.0,444.1 1034.5,424.2 1035.0,438.5 1035.5,423.7 1036.0,440.9 1036.5,423.3 1037.0,446.1 1037.5,421.5 1038.0,442.8 1038.5,419.2 1039.0,439.9 1039.5,425.5 1040.0,439.3 1040.5,424.2 1041.0,448.6 1041.5,423.3 1042.0,440.8 1042.5,418.5 1043.0,439.7 1043.5,425.6 1044.0,442.4 1044.5,422.6 1045.0,440.6 1045.5,422.6 1046.0,441.8 1046.5,421.0 1047.0,440.1 1047.5,420.0 1048.0,441.5 1048.5,416.9 1049.0,444.0 1049.5,421.6 1050.0,450.4 1050.5,424.8 1051.0,438.9 1051.5,422.3 1052.0,441.6 1052.5,423.3 1053.0,441.2 1053.5,422.6 1054.0,437.5 1054.5,424.1 1055.0,439.4 1055.5,418.3 1056.0,440.2 1056.5,418.4 1057.0,441.9 1057.5,414.2 1058.0,443.5 1058.5,423.7 1059.0,450.2 1059.5,423.1 1060.0,410.0 1060.5,424.3 1061.0,437.6 1061.5,417.3 1062.0,439.7 1062.5,422.4 1063.0,445.5 1063.5,415.3 1064.0,443.4 1064.5,420.9 1065.0,439.7 1065.5,424.3 1066.0,437.7 1066.5,425.4 1067.0,443.4 1067.5,421.5 1068.0,440.4 1068.5,423.7 1069.0,438.7 1069.5,423.4 1070.0,439.5 1070.5,424.4 1071.0,437.5 1071.5,416.2 1072.0,447.1 1072.5,421.6 1073.0,441.6 1073.5,421.4 1074.0,440.2 1074.5,418.3 1075.0,440.0 1075.5,414.9 1076.0,441.5 1076.5,421.5 1077.0,440.1 1077.5,419.6 1078.0,440.0 1078.5,421.3 1079.0,446.0 1079.5,419.4 1080.0,439.3 1080.5,420.0 1081.0,435.5 1081.5,425.6 1082.0,437.7 1082.5,425.0 1083.0,437.4 1083.5,417.7 1084.0,440.5 1084.5,424.8 1085.0,438.0 1085.5,421.9 1086.0,438.5 1086.5,424.2 1087.0,445.7 1087.5,423.5 1088.0,453.0 1088.5,420.0 1089.0,437.7 1089.5,422.4 1090.0,441.2 1090.5,421.7 1091.0,437.8 1091.5,423.1 1092.0,439.5 1092.5,423.6 1093.0,438.7 1093.5,421.8 1094.0,436.8 1094.5,421.9 1095.0,437.1 1095.5,420.2 1096.0,439.1 1096.5,423.5 1097.0,436.0 1097.5,423.6 1098.0,435.6 1098.5,422.5 1099.0,439.7 1099.5,423.1 1100.0,438.4 1100.5,419.2 1101.0,444.4 1101.5,418.8 1102.0,442.8 1102.5,422.6 1103.0,437.9 1103.5,420.8 1104.0,437.6 1104.5,425.8 1105.0,434.7 1105.5,421.2 1106.0,434.8 1106.5,424.4 1107.0,442.7 1107.5,422.7 1108.0,449.7 1108.5,423.6 1109.0,436.7 1109.5,425.1 1110.0,412.0 1110.5,423.4 1111.0,438.8 1111.5,418.2 1112.0,437.3 1112.5,422.8 1113.0,438.0 1113.5,422.8 1114.0,437.9 1114.5,419.8 1115.0,444.7 1115.5,422.7 1116.0,439.2 1116.5,417.9 1117.0,440.9 1117.5,422.3 1118.0,437.9 1118.5,421.5 1119.0,440.6 1119.5,419.5 1120.0,440.6 1120.5,422.6 1121.0,447.7 1121.5,420.0 1122.0,439.5 1122.5,422.4 1123.0,441.7 1123.5,419.5 1124.0,437.2 1124.5,424.6 1125.0,446.4 1125.5,423.4 1126.0,436.4 1126.5,422.9 1127.0,438.7 1127.5,423.9 1128.0,438.1 1128.5,420.6 1129.0,438.9 1129.5,418.3 1130.0,438.2 1130.5,419.2 1131.0,439.9 1131.5,414.9 1132.0,437.9 1132.5,424.0 1133.0,437.6 1133.5,417.9 1134.0,440.4 1134.5,420.5 1135.0,442.9 1135.5,420.0 1136.0,445.1 1136.5,420.2 1137.0,439.8 1137.5,426.0 1138.0,436.7 1138.5,424.3 1139.0,461.0 1139.5,420.8 1140.0,441.8 1140.5,420.8 1141.0,441.7 1141.5,419.8 1142.0,438.8 1142.5,424.4 1143.0,436.2 1143.5,422.2 1144.0,438.2 1144.5,421.9 1145.0,441.3 1145.5,419.9 1146.0,441.5 1146.5,419.4 1147.0,443.6 1147.5,423.5 1148.0,441.2 1148.5,423.6 1149.0,414.0 1149.5,420.1 1150.0,438.8 1150.5,422.3 1151.0,442.4 1151.5,422.4 1152.0,442.0 1152.5,424.0 1153.0,445.6 1153.5,427.8 1154.0,450.2 1154.5,436.1 1155.0,459.3 1155.5,443.3 1156.0,468.3 1156.5,455.1 1157.0,482.2 1157.5,462.4 1158.0,501.0 1158.5,484.8 1159.0,520.8 1159.5,500.6 1160.0,532.6 1160.5,516.0 1161.0,549.1 1161.5,537.2 1162.0,568.5 1162.5,553.9 1163.0,585.1 1163.5,562.3 1164.0,599.2 1164.5,587.6 1165.0,613.5 1165.5,600.7 1166.0,633.7 1166.5,618.4 1167.0,642.0 1167.5,631.5 1168.0,657.6 1168.5,645.4 1169.0,667.4 1169.5,657.9 1170.0,675.9 1170.5,665.5 1171.0,687.7 1171.5,664.0 1172.0,689.8 1172.5,671.4 1173.0,691.5 1173.5,679.3 1174.0,692.1 1174.5,674.4 1175.0,691.7 1175.5,674.2 1176.0,695.0 1176.5,669.1 1177.0,690.4 1177.5,657.8 1178.0,681.1 1178.5,656.6 1179.0,670.9 1179.5,645.1 1180.0,657.8 1180.5,639.7 1181.0,646.0 1181.5,626.2 1182.0,636.9 1182.5,610.7 1183.0,618.9 1183.5,593.8 1184.0,603.7 1184.5,576.7 1185.0,594.8 1185.5,570.2 1186.0,580.9 1186.5,558.1 1187.0,564.7 1187.5,531.8 1188.0,546.8 1188.5,515.7 1189.0,530.1 1189.5,492.3 1190.0,509.1 1190.5,480.6 1191.0,503.8 1191.5,467.5 1192.0,481.1 1192.5,466.0 1193.0,476.5 1193.5,446.1 1194.0,468.4 1194.5,442.7 1195.0,462.2 1195.5,437.7 1196.0,453.9 1196.5,423.4 1197.0,450.4 1197.5,430.5 1198.0,451.0 1198.5,432.7 1199.0,454.5 1199.5,430.4 1200.0,447.2 1200.5,429.8 1201.0,448.9 1201.5,432.0 1202.0,446.3 1202.5,430.6 1203.0,452.3 1203.5,483.0 1204.0,446.6 1204.5,433.5 1205.0,449.3 1205.5,419.9 1206.0,447.8 1206.5,428.1 1207.0,444.9 1207.5,425.9 1208.0,445.3 1208.5,426.7 1209.0,443.2 1209.5,429.7 1210.0,449.0 1210.5,431.0 1211.0,444.4 1211.5,429.7 1212.0,447.2 1212.5,427.8 1213.0,447.4 1213.5,426.5 1214.0,442.8 1214.5,430.1 1215.0,441.8 1215.5,431.0 1216.0,444.2 1216.5,428.8 1217.0,444.9 1217.5,426.1 1218.0,446.1 1218.5,424.2 1219.0,444.9 1219.5,426.2 1220.0,443.0 1220.5,427.1 1221.0,446.3 1221.5,419.3 1222.0,442.3 1222.5,427.9 1223.0,444.3 1223.5,427.5 1224.0,457.0 1224.5,424.7 1225.0,412.0 1225.5,418.3 1226.0,442.3 1226.5,424.6 1227.0,443.1 1227.5,428.6 1228.0,443.9 1228.5,421.6 1229.0,442.9 1229.5,418.7 1230.0,442.5 1230.5,426.4 1231.0,444.3 1231.5,428.5 1232.0,442.0 1232.5,425.6 1233.0,447.0 1233.5,426.1 1234.0,448.4 1234.5,420.8 1235.0,442.1 1235.5,424.2 1236.0,440.9 1236.5,427.0 1237.0,446.7 1237.5,426.1 1238.0,445.5 1238.5,417.9 1239.0,444.9 1239.5,424.0 1240.0,441.4 1240.5,427.9 1241.0,445.1 1241.5,425.4 1242.0,446.0 1242.5,426.5 1243.0,443.0 1243.5,427.2 1244.0,448.7 1244.5,425.2 1245.0,442.4 1245.5,426.6 1246.0,464.0 1246.5,427.6 1247.0,447.1 1247.5,421.9 1248.0,442.1 1248.5,293.0 1249.0,445.3 1249.5,423.9 1250.0,442.5 1250.5,423.3 1251.0,452.0 1251.5,426.0 1252.0,441.1 1252.5,426.8 1253.0,446.3 1253.5,426.6 1254.0,440.8 1254.5,430.5 1255.0,441.1 1255.5,427.1 1256.0,441.3 1256.5,428.2 1257.0,447.6 1257.5,427.7 1258.0,441.6 1258.5,427.7 1259.0,445.4 1259.5,426.7 1260.0,443.7 1260.5,423.9 1261.0,443.5 1261.5,425.3 1262.0,450.0 1262.5,424.1 1263.0,442.8 1263.5,424.0 1264.0,448.8 1264.5,426.8 1265.0,445.4 1265.5,424.0 1266.0,447.3 1266.5,424.5 1267.0,445.8 1267.5,424.8 1268.0,465.0 1268.5,423.3 1269.0,447.7 1269.5,423.9 1270.0,443.4 1270.5,426.0 1271.0,448.0 1271.5,426.8 1272.0,442.3 1272.5,424.0 1273.0,442.4 1273.5,422.6 1274.0,441.6 1274.5,426.2 1275.0,441.3 1275.5,424.4 1276.0,442.0 1276.5,424.7 1277.0,442.9 1277.5,425.0 1278.0,443.6 1278.5,428.3 1279.0,442.4 1279.5,429.1 1280.0,439.7 1280.5,428.2 1281.0,442.4 1281.5,425.8 1282.0,445.4 1282.5,415.7 1283.0,449.6 1283.5,424.1 1284.0,450.1 1284.5,415.5 1285.0,445.6 1285.5,424.5 1286.0,445.9 1286.5,424.7 1287.0,441.5 1287.5,428.1 1288.0,443.0 1288.5,416.0 1289.0,447.8 1289.5,426.1 1290.0,414.0 1290.5,421.2 1291.0,442.4 1291.5,427.5 1292.0,441.1 1292.5,423.3 1293.0,441.0 1293.5,426.0 1294.0,440.7 1294.5,422.0 1295.0,442.2 1295.5,418.5 1296.0,442.6 1296.5,426.5 1297.0,441.3 1297.5,425.3 1298.0,442.6 1298.5,425.3 1299.0,444.6 1299.5,422.4 1300.0,443.1 1300.5,421.2 1301.0,444.0 1301.5,428.0 1302.0,441.2 1302.5,427.2 1303.0,446.3 1303.5,424.5 1304.0,446.2 1304.5,421.6 1305.0,445.3 1305.5,419.9 1306.0,442.4 1306.5,429.0 1307.0,447.0 1307.5,426.4 1308.0,454.5 1308.5,353.0 1309.0,444.8 1309.5,423.4 1310.0,443.1 1310.5,422.5 1311.0,444.2 1311.5,416.7 1312.0,445.0 1312.5,426.3 1313.0,445.3 1313.5,424.3 1314.0,445.5 1314.5,425.5 1315.0,449.4 1315.5,424.9 1316.0,445.7 1316.5,424.7 1317.0,444.4 1317.5,421.9 1318.0,443.4 1318.5,421.4 1319.0,447.0 1319.5,424.7 1320.0,447.6 1320.5,422.5 1321.0,450.2 1321.5,424.7 1322.0,446.8 1322.5,425.6 1323.0,444.4 1323.5,426.5 1324.0,448.9 1324.5,425.5 1325.0,656.7 1325.5,424.4 1326.0,440.9 1326.5,428.9 1327.0,447.7 1327.5,428.8 1328.0,439.5 1328.5,423.3 1329.0,443.4 1329.5,425.5 1330.0,412.0 1330.5,427.2 1331.0,440.8 1331.5,424.4 1332.0,443.4 1332.5,418.7 1333.0,443.3 1333.5,425.2 1334.0,443.3 1334.5,421.1 1335.0,443.8 1335.5,427.0 1336.0,444.0 1336.5,428.1 1337.0,445.4 1337.5,427.9 1338.0,445.4 1338.5,429.4 1339.0,443.7 1339.5,424.0 1340.0,443.7 1340.5,430.3 1341.0,445.1 1341.5,426.4 1342.0,440.8 1342.5,421.9 1343.0,446.5 1343.5,425.1 1344.0,444.4 1344.5,426.7 1345.0,444.3 1345.5,425.0 1346.0,441.0 1346.5,426.0 1347.0,440.6 1347.5,424.9 1348.0,401.0 1348.5,427.3 1349.0,444.0 1349.5,425.7 1350.0,448.1 1350.5,424.2 1351.0,445.7 1351.5,423.4 1352.0,445.0 1352.5,424.3 1353.0,449.9 1353.5,429.0 1354.0,455.8 1354.5,437.4 1355.0,463.0 1355.5,449.1 1356.0,474.3 1356.5,462.5 1357.0,487.9 1357.5,480.9 1358.0,503.1 1358.5,495.8 1359.0,521.4 1359.5,510.0 1360.0,539.8 1360.5,527.8 1361.0,557.8 1361.5,544.9 1362.0,573.6 1362.5,563.6 1363.0,596.9 1363.5,579.4 1364.0,601.0 1364.5,594.9 1365.0,618.6 1365.5,604.7 1366.0,630.1 1366.5,620.5 1367.0,642.9 1367.5,631.1 1368.0,658.5 1368.5,635.7 1369.0,665.8 1369.5,642.2 1370.0,662.8 1370.5,639.9 1371.0,664.0 1371.5,638.3 1372.0,658.8 1372.5,646.2 1373.0,654.7 1373.5,638.0 1374.0,652.5 1374.5,635.7 1375.0,643.1 1375.5,623.3 1376.0,638.0 1376.5,614.1 1377.0,633.6 1377.5,603.7 1378.0,617.2 1378.5,593.2 1379.0,601.2 1379.5,580.2 1380.0,585.0 1380.5,565.7 1381.0,578.3 1381.5,556.3 1382.0,568.7 1382.5,542.1 1383.0,549.9 1383.5,522.6 1384.0,537.8 1384.5,499.3 1385.0,514.2 1385.5,482.5 1386.0,495.3 1386.5,472.1 1387.0,482.9 1387.5,459.1 1388.0,483.2 1388.5,455.8 1389.0,473.3 1389.5,447.5 1390.0,466.4 1390.5,438.0 1391.0,458.2 1391.5,435.8 1392.0,453.3 1392.5,436.5 1393.0,452.1 1393.5,434.8 1394.0,450.0 1394.5,434.4 1395.0,452.6 1395.5,430.7 1396.0,451.5 1396.5,431.8 1397.0,457.1 1397.5,434.3 1398.0,452.1 1398.5,432.8 1399.0,450.0 1399.5,433.4 1400.0,451.8 1400.5,432.4 1401.0,451.5 1401.5,434.3 1402.0,447.8 1402.5,430.0 1403.0,449.4 1403.5,433.8 1404.0,449.4 1404.5,433.2 1405.0,449.2 1405.5,425.0 1406.0,451.2 1406.5,430.3 1407.0,449.9 1407.5,429.7 1408.0,452.5 1408.5,429.5 1409.0,447.7 1409.5,430.9 1410.0,449.5 1410.5,433.1 1411.0,445.1 1411.5,428.4 1412.0,446.5 1412.5,431.9 1413.0,448.9 1413.5,430.5 1414.0,445.4 1414.5,428.1 1415.0,446.7 1415.5,429.3 1416.0,444.4 1416.5,431.3 1417.0,447.8 1417.5,429.6 1418.0,450.4 1418.5,429.7 1419.0,448.2 1419.5,426.2 1420.0,450.5 1420.5,425.2 1421.0,454.1 1421.5,421.6 1422.0,467.7 1422.5,428.1 1423.0,448.6 1423.5,426.7 1424.0,444.8 1424.5,430.9 1425.0,443.8 1425.5,427.2 1426.0,445.2 1426.5,429.5 1427.0,446.6 1427.5,422.8 1428.0,444.5 1428.5,430.4 1429.0,444.4 1429.5,429.2 1430.0,445.7 1430.5,426.4 1431.0,448.5 1431.5,426.1 1432.0,445.3 1432.5,432.1 1433.0,442.6 1433.5,429.8 1434.0,445.0 1434.5,428.9 1435.0,444.2 1435.5,428.0 1436.0,444.0 1436.5,429.5 1437.0,443.1 1437.5,427.4 1438.0,446.7 1438.5,427.7 1439.0,446.0 1439.5,426.0 1440.0,449.5 1440.5,424.1 1441.0,449.8 1441.5,425.3 1442.0,445.4 1442.5,423.3 1443.0,442.8 1443.5,427.4 1444.0,443.4 1444.5,425.6 1445.0,444.9 1445.5,417.5 1446.0,443.5 1446.5,423.7 1447.0,443.1 1447.5,427.9 1448.0,443.8 1448.5,430.0 1449.0,443.2 1449.5,423.3 1450.0,443.6 1450.5,428.3 1451.0,445.2 1451.5,423.4 1452.0,445.0 1452.5,427.7 1453.0,444.1 1453.5,428.5 1454.0,443.2 1454.5,427.2 1455.0,443.3 1455.5,418.4 1456.0,442.2 1456.5,426.4 1457.0,443.6 1457.5,425.2 1458.0,443.9 1458.5,424.3 1459.0,444.0 1459.5,423.1 1460.0,446.5 1460.5,418.7 1461.0,443.3 1461.5,426.2 1462.0,441.6 1462.5,426.7 1463.0,439.4 1463.5,425.1 1464.0,440.8 1464.5,426.1 1465.0,442.6 1465.5,423.2 1466.0,446.8 1466.5,426.8 1467.0,442.8 1467.5,422.6 1468.0,444.5 1468.5,428.6 1469.0,441.1 1469.5,425.4 1470.0,441.8 1470.5,425.4 1471.0,443.1 1471.5,423.7 1472.0,444.6 1472.5,421.8 1473.0,443.0 1473.5,422.6 1474.0,445.0 1474.5,420.6 1475.0,444.3 1475.5,423.7 1476.0,445.7 1476.5,424.8 1477.0,440.5 1477.5,426.7 1478.0,443.2 1478.5,422.7 1479.0,445.8 1479.5,422.2 1480.0,412.0 1480.5,423.4 1481.0,443.9 1481.5,425.1 1482.0,441.2 1482.5,423.5 1483.0,444.0 1483.5,426.6 1484.0,441.8 1484.5,426.2 1485.0,442.8 1485.5,422.1 1486.0,445.5 1486.5,423.7 1487.0,442.6 1487.5,425.1 1488.0,446.3 1488.5,426.9 1489.0,440.7 1489.5,425.5 1490.0,443.2 1490.5,425.3 1491.0,442.3 1491.5,424.3 1492.0,446.9 1492.5,424.1 1493.0,440.6 1493.5,426.5 1494.0,438.3 1494.5,428.2 1495.0,437.7 1495.5,418.9 1496.0,438.5 1496.5,423.1 1497.0,442.8 1497.5,424.2 1498.0,443.7 1498.5,418.6 1499.0,443.8 1499.5,424.8 1500.0,412.0 1500.5,427.0 1501.0,444.1 1501.5,426.0 1502.0,443.9 1502.5,425.6 1503.0,440.1 1503.5,425.0 1504.0,441.8 1504.5,424.3 1505.0,440.4 1505.5,424.1 1506.0,441.2 1506.5,422.9 1507.0,442.5 1507.5,426.0 1508.0,444.0 1508.5,418.3 1509.0,440.1 1509.5,414.7 1510.0,441.5 1510.5,423.5 1511.0,446.6 1511.5,463.0 1512.0,443.4 1512.5,421.8 1513.0,441.5 1513.5,423.0 1514.0,440.5 1514.5,424.0 1515.0,438.9 1515.5,423.9 1516.0,440.6 1516.5,418.5 1517.0,439.5 1517.5,424.7 1518.0,444.1 1518.5,425.9 1519.0,442.4 1519.5,423.3 1520.0,440.9 1520.5,417.0 1521.0,441.9 1521.5,419.0 1522.0,441.6 1522.5,423.7 1523.0,438.6 1523.5,425.3 1524.0,439.3 1524.5,422.6 1525.0,440.9 1525.5,421.5 1526.0,442.1 1526.5,420.8 1527.0,441.3 1527.5,417.0 1528.0,438.5 1528.5,418.7 1529.0,473.0 1529.5,421.7 1530.0,439.7 1530.5,421.7 1531.0,439.8 1531.5,423.6 1532.0,439.9 1532.5,423.1 1533.0,440.1 1533.5,422.9 1534.0,439.0 1534.5,420.4 1535.0,439.0 1535.5,419.6 1536.0,436.1 1536.5,424.2 1537.0,402.0 1537.5,424.7 1538.0,449.8 1538.5,423.1 1539.0,446.4 1539.5,421.4 1540.0,444.8 1540.5,421.2 1541.0,442.3 1541.5,422.9 1542.0,442.2 1542.5,423.4 1543.0,443.9 1543.5,422.8 1544.0,441.0 1544.5,424.7 1545.0,439.6 1545.5,424.2 1546.0,438.3 1546.5,422.2 1547.0,441.2 1547.5,423.6 1548.0,436.7 1548.5,424.1 1549.0,435.6 1549.5,426.5 1550.0,436.7 1550.5,419.1 1551.0,438.1 1551.5,421.6 1552.0,441.2 1552.5,421.7 1553.0,438.9 1553.5,422.2 1554.0,441.0 1554.5,421.6 1555.0,444.0 1555.5,422.0 1556.0,444.4 1556.5,419.2 1557.0,450.5 1557.5,432.4 1558.0,461.1 1558.5,447.1 1559.0,468.5 1559.5,451.3 1560.0,483.0 1560.5,471.0 1561.0,497.5 1561.5,487.4 1562.0,519.2 1562.5,503.2 1563.0,532.2 1563.5,518.4 1564.0,554.1 1564.5,536.1 1565.0,563.6 1565.5,555.3 1566.0,587.2 1566.5,572.2 1567.0,599.1 1567.5,586.8 1568.0,622.8 1568.5,604.5 1569.0,627.4 1569.5,619.2 1570.0,644.6 1570.5,630.7 1571.0,658.3 1571.5,640.6 1572.0,667.0 1572.5,653.9 1573.0,673.5 1573.5,664.0 1574.0,682.2 1574.5,671.7 1575.0,692.2 1575.5,673.3 1576.0,690.1 1576.5,678.8 1577.0,695.0 1577.5,676.6 1578.0,689.4 1578.5,675.8 1579.0,687.1 1579.5,669.6 1580.0,685.4 1580.5,662.8 1581.0,682.2 1581.5,655.3 1582.0,672.7 1582.5,644.8 1583.0,655.5 1583.5,631.6 1584.0,642.8 1584.5,623.2 1585.0,629.7 1585.5,607.3 1586.0,613.9 1586.5,585.7 1587.0,601.2 1587.5,574.2 1588.0,587.6 1588.5,558.6 1589.0,574.5 1589.5,545.7 1590.0,553.2 1590.5,523.1 1591.0,531.6 1591.5,496.0 1592.0,513.1 1592.5,487.6 1593.0,495.7 1593.5,473.5 1594.0,486.6 1594.5,456.3 1595.0,479.1 1595.5,455.8 1596.0,470.3 1596.5,449.7 1597.0,458.7 1597.5,439.5 1598.0,449.7 1598.5,429.2 1599.0,452.8 1599.5,425.1 1600.0,446.0 1600.5,428.8 1601.0,449.7 1601.5,426.7 1602.0,448.1 1602.5,427.3 1603.0,450.9 1603.5,433.3 1604.0,443.3 1604.5,431.0 1605.0,449.5 1605.5,426.7 1606.0,447.7 1606.5,428.6 1607.0,444.9 1607.5,428.6 1608.0,445.2 1608.5,424.2 1609.0,442.5 1609.5,427.6 1610.0,445.1 1610.5,426.3 1611.0,462.0 1611.5,423.3 1612.0,449.4 1612.5,426.8 1613.0,448.4 1613.5,428.5 1614.0,446.8 1614.5,429.7 1615.0,441.4 1615.5,430.0 1616.0,439.7 1616.5,430.6 1617.0,441.8 1617.5,427.7 1618.0,442.1 1618.5,415.8 1619.0,442.1 1619.5,425.3 1620.0,443.4 1620.5,425.6 1621.0,445.3 1621.5,424.3 1622.0,442.6 1622.5,424.6 1623.0,445.7 1623.5,426.1 1624.0,439.9 1624.5,416.2 1625.0,410.0 1625.5,425.2 1626.0,443.8 1626.5,421.6 1627.0,444.8 1627.5,425.4 1628.0,448.8 1628.5,426.5 1629.0,442.0 1629.5,426.7 1630.0,439.3 1630.5,426.1 1631.0,452.7 1631.5,427.8 1632.0,446.2 1632.5,424.4 1633.0,448.7 1633.5,425.5 1634.0,442.6 1634.5,417.7 1635.0,442.6 1635.5,427.7 1636.0,446.3 1636.5,425.6 1637.0,447.5 1637.5,424.5 1638.0,443.5 1638.5,425.0 1639.0,463.0 1639.5,424.0 1640.0,438.7 1640.5,428.0 1641.0,438.8 1641.5,425.2 1642.0,438.8 1642.5,419.4 1643.0,443.6 1643.5,426.1 1644.0,439.1 1644.5,423.8 1645.0,443.4 1645.5,422.1 1646.0,441.2 1646.5,420.5 1647.0,438.8 1647.5,427.6 1648.0,436.6 1648.5,425.2 1649.0,438.3 1649.5,424.6 1650.0,445.8 1650.5,414.1 1651.0,440.6 1651.5,422.9 1652.0,439.2 1652.5,421.8 1653.0,442.8 1653.5,424.5 1654.0,439.6 1654.5,423.3 1655.0,442.3 1655.5,423.8 1656.0,439.0 1656.5,417.9 1657.0,441.8 1657.5,423.0 1658.0,440.8 1658.5,423.8 1659.0,438.1 1659.5,420.7 1660.0,438.4 1660.5,426.6 1661.0,440.4 1661.5,424.1 1662.0,448.3 1662.5,419.1 1663.0,441.3 1663.5,425.0 1664.0,438.9 1664.5,421.8 1665.0,449.2 1665.5,427.3 1666.0,403.0 1666.5,416.9 1667.0,438.8 1667.5,420.1 1668.0,442.5 1668.5,424.2 1669.0,439.8 1669.5,416.7 1670.0,445.0 1670.5,413.3 1671.0,440.1 1671.5,422.5 1672.0,441.5 1672.5,424.8 1673.0,443.0 1673.5,419.7 1674.0,442.5 1674.5,423.2 1675.0,447.5 1675.5,420.9 1676.0,444.5 1676.5,420.7 1677.0,443.4 1677.5,421.1 1678.0,443.8 1678.5,453.0 1679.0,441.5 1679.5,421.4 1680.0,440.9 1680.5,417.0 1681.0,439.2 1681.5,421.8 1682.0,440.1 1682.5,424.3 1683.0,401.0 1683.5,424.3 1684.0,437.5 1684.5,425.3 1685.0,441.7 1685.5,424.3 1686.0,438.9 1686.5,421.5 1687.0,444.0 1687.5,425.2 1688.0,438.0 1688.5,425.4 1689.0,440.2 1689.5,423.6 1690.0,440.6 1690.5,426.3 1691.0,437.5 1691.5,423.8 1692.0,440.3 1692.5,421.4 1693.0,441.2 1693.5,422.3 1694.0,438.9 1694.5,422.5 1695.0,439.9 1695.5,417.1 1696.0,445.7 1696.5,422.5 1697.0,445.4 1697.5,421.5 1698.0,440.8 1698.5,419.5 1699.0,441.1 1699.5,416.9 1700.0,439.4 1700.5,421.8 1701.0,440.3 1701.5,422.6 1702.0,439.5 1702.5,424.7 1703.0,438.5 1703.5,424.1 1704.0,436.7 1704.5,425.5 1705.0,439.1 1705.5,424.1 1706.0,437.2 1706.5,423.8 1707.0,445.3 1707.5,422.0 1708.0,438.3 1708.5,420.9 1709.0,440.9 1709.5,420.8 1710.0,439.1 1710.5,416.0 1711.0,438.0 1711.5,419.3 1712.0,437.7 1712.5,425.0 1713.0,402.0 1713.5,416.2 1714.0,452.0 1714.5,422.8 1715.0,439.4 1715.5,419.7 1716.0,437.0 1716.5,424.5 1717.0,441.6 1717.5,423.8 1718.0,435.3 1718.5,422.9 1719.0,440.9 1719.5,422.5 1720.0,438.7 1720.5,419.7 1721.0,439.0 1721.5,423.1 1722.0,439.4 1722.5,419.6 1723.0,440.3 1723.5,424.4 1724.0,439.8 1724.5,424.1 1725.0,437.2 1725.5,422.7 1726.0,438.1 1726.5,420.9 1727.0,439.3 1727.5,422.2 1728.0,439.4 1728.5,421.2 1729.0,443.1 1729.5,422.5 1730.0,440.4 1730.5,414.3 1731.0,439.7 1731.5,424.4 1732.0,438.9 1732.5,424.7 1733.0,437.7 1733.5,423.4 1734.0,439.4 1734.5,421.8 1735.0,442.3 1735.5,420.0 1736.0,443.3 1736.5,423.5 1737.0,437.3 1737.5,425.7 1738.0,436.2 1738.5,423.3 1739.0,436.8 1739.5,423.2 1740.0,414.0 1740.5,425.7 1741.0,438.0 1741.5,421.8 1742.0,438.4 1742.5,421.7 1743.0,445.8 1743.5,422.8 1744.0,443.4 1744.5,421.0 1745.0,452.0 1745.5,424.2 1746.0,438.3 1746.5,422.7 1747.0,443.9 1747.5,423.1 1748.0,440.5 1748.5,424.5 1749.0,440.4 1749.5,424.6 1750.0,439.7 1750.5,423.4 1751.0,443.3 1751.5,423.1 1752.0,438.9 1752.5,419.7 1753.0,443.0 1753.5,427.6 1754.0,455.9 1754.5,438.2 1755.0,462.5 1755.5,451.9 1756.0,478.4 1756.5,467.5 1757.0,494.4 1757.5,482.8 1758.0,510.0 1758.5,499.1 1759.0,524.0 1759.5,517.9 1760.0,546.8 1760.5,539.7 1761.0,563.1 1761.5,551.6 1762.0,588.4 1762.5,572.9 1763.0,608.8 1763.5,595.5 1764.0,631.2 1764.5,611.9 1765.0,641.3 1765.5,624.1 1766.0,649.1 1766.5,646.1 1767.0,663.8 1767.5,656.5 1768.0,677.8 1768.5,666.3 1769.0,697.9 1769.5,675.3 1770.0,694.6 1770.5,677.6 1771.0,702.1 1771.5,679.8 1772.0,700.9 1772.5,678.5 1773.0,698.5 1773.5,679.6 1774.0,694.5 1774.5,676.1 1775.0,693.6 1775.5,670.4 1776.0,680.0 1776.5,661.3 1777.0,675.0 1777.5,646.5 1778.0,659.9 1778.5,637.3 1779.0,647.7 1779.5,626.4 1780.0,629.1 1780.5,610.3 1781.0,617.1 1781.5,591.7 1782.0,604.7 1782.5,574.7 1783.0,591.6 1783.5,569.8 1784.0,572.1 1784.5,552.1 1785.0,556.5 1785.5,517.1 1786.0,538.1 1786.5,500.5 1787.0,519.2 1787.5,485.5 1788.0,500.3 1788.5,462.8 1789.0,484.0 1789.5,456.7 1790.0,491.1 1790.5,456.8 1791.0,469.9 1791.5,439.3 1792.0,458.7 1792.5,438.0 1793.0,450.6 1793.5,434.0 1794.0,452.9 1794.5,432.0 1795.0,444.6 1795.5,434.3 1796.0,447.2 1796.5,429.2 1797.0,453.3 1797.5,430.2 1798.0,446.6 1798.5,431.9 1799.0,444.6 1799.5,431.2 1800.0,442.9 1800.5,418.7 1801.0,445.7 1801.5,426.8 1802.0,444.5 1802.5,430.8 1803.0,445.4 1803.5,428.2 1804.0,446.3 1804.5,427.8 1805.0,444.5 1805.5,430.7 1806.0,443.0 1806.5,429.0 1807.0,445.7 1807.5,418.3 1808.0,443.1 1808.5,425.3 1809.0,444.5 1809.5,425.2 1810.0,442.7 1810.5,425.6 1811.0,443.7 1811.5,421.5 1812.0,441.8 1812.5,423.1 1813.0,440.6 1813.5,421.3 1814.0,443.5 1814.5,426.3 1815.0,440.7 1815.5,420.0 1816.0,448.6 1816.5,427.6 1817.0,446.0 1817.5,426.0 1818.0,448.5 1818.5,427.3 1819.0,444.1 1819.5,427.5 1820.0,442.0 1820.5,422.2 1821.0,442.0 1821.5,424.3 1822.0,448.7 1822.5,422.9 1823.0,442.7 1823.5,410.0 1824.0,441.4 1824.5,426.0 1825.0,444.7 1825.5,423.0 1826.0,441.1 1826.5,427.5 1827.0,441.7 1827.5,422.4 1828.0,441.2 1828.5,421.9 1829.0,442.0 1829.5,421.1 1830.0,445.4 1830.5,423.1 1831.0,446.0 1831.5,423.0 1832.0,442.8 1832.5,410.0 1833.0,443.1 1833.5,427.2 1834.0,444.0 1834.5,418.1 1835.0,444.5 1835.5,426.5 1836.0,447.5 1836.5,425.4 1837.0,445.3 1837.5,420.9 1838.0,443.6 1838.5,426.9 1839.0,447.4 1839.5,425.6 1840.0,450.7 1840.5,428.6 1841.0,447.3 1841.5,427.6 1842.0,441.1 1842.5,429.1 1843.0,441.7 1843.5,417.2 1844.0,438.8 1844.5,428.2 1845.0,444.1 1845.5,429.1 1846.0,442.0 1846.5,421.4 1847.0,442.7 1847.5,422.6 1848.0,440.0 1848.5,427.8 1849.0,441.3 1849.5,426.9 1850.0,410.0 1850.5,425.8 1851.0,440.5 1851.5,426.6 1852.0,442.7 1852.5,426.7 1853.0,448.7 1853.5,423.8 1854.0,452.0 1854.5,425.2 1855.0,441.4 1855.5,427.9 1856.0,443.4 1856.5,426.9 1857.0,442.6 1857.5,420.2 1858.0,449.5 1858.5,422.0 1859.0,443.2 1859.5,425.2 1860.0,444.6 1860.5,427.4 1861.0,440.6 1861.5,427.7 1862.0,438.7 1862.5,428.9 1863.0,439.0 1863.5,425.4 1864.0,443.4 1864.5,426.3 1865.0,441.1 1865.5,425.9 1866.0,441.3 1866.5,427.7 1867.0,440.9 1867.5,428.2 1868.0,439.9 1868.5,428.3 1869.0,447.3 1869.5,427.3 1870.0,394.0 1870.5,424.7 1871.0,445.4 1871.5,422.7 1872.0,443.6 1872.5,426.9 1873.0,447.4 1873.5,425.3 1874.0,442.5 1874.5,425.1 1875.0,442.5 1875.5,424.8 1876.0,441.4 1876.5,425.1 1877.0,443.5 1877.5,424.1 1878.0,443.8 1878.5,424.5 1879.0,441.9 1879.5,422.3 1880.0,441.0 1880.5,425.4 1881.0,443.8 1881.5,424.0 1882.0,442.7 1882.5,425.2 1883.0,445.0 1883.5,425.4 1884.0,442.4 1884.5,423.9 1885.0,442.5 1885.5,425.2 1886.0,375.0 1886.5,425.2 1887.0,441.7 1887.5,428.1 1888.0,439.9 1888.5,426.6 1889.0,441.4 1889.5,425.6 1890.0,444.7 1890.5,427.8 1891.0,438.7 1891.5,428.2 1892.0,438.0 1892.5,426.8 1893.0,446.3 1893.5,425.6 1894.0,444.0 1894.5,425.0 1895.0,440.2 1895.5,422.7 1896.0,441.1 1896.5,424.0 1897.0,444.4 1897.5,427.7 1898.0,439.4 1898.5,422.5 1899.0,444.4 1899.5,427.0 1900.0,412.0 1900.5,418.0 1901.0,446.2 1901.5,419.9 1902.0,443.1 1902.5,424.7 1903.0,448.3 1903.5,422.2 1904.0,443.0 1904.5,424.3 1905.0,442.4 1905.5,424.5 1906.0,440.7 1906.5,420.8 1907.0,443.0 1907.5,425.5 1908.0,444.7 1908.5,423.7 1909.0,438.4 1909.5,425.4 1910.0,441.5 1910.5,425.6 1911.0,443.7 1911.5,423.8 1912.0,443.5 1912.5,423.8 1913.0,444.2 1913.5,422.0 1914.0,459.0 1914.5,423.7 1915.0,442.8 1915.5,418.8 1916.0,449.6 1916.5,422.6 1917.0,443.8 1917.5,421.0 1918.0,442.2 1918.5,417.5 1919.0,452.2 1919.5,420.3 1920.0,444.7 1920.5,424.7 1921.0,441.1 1921.5,425.9 1922.0,442.5 1922.5,425.3 1923.0,442.4 1923.5,425.6 1924.0,443.3 1924.5,423.7 1925.0,448.0 1925.5,427.0 1926.0,439.6 1926.5,428.6 1927.0,438.6 1927.5,428.0 1928.0,440.4 1928.5,427.3 1929.0,446.6 1929.5,424.4 1930.0,410.0 1930.5,424.7 1931.0,451.0 1931.5,418.0 1932.0,443.1 1932.5,424.0 1933.0,450.2 1933.5,425.7 1934.0,442.3 1934.5,421.5 1935.0,452.0 1935.5,426.7 1936.0,440.0 1936.5,425.4 1937.0,442.2 1937.5,427.5 1938.0,440.3 1938.5,422.5 1939.0,442.5 1939.5,426.2 1940.0,441.9 1940.5,423.5 1941.0,439.6 1941.5,427.2 1942.0,444.2 1942.5,421.1 1943.0,447.4 1943.5,424.0 1944.0,443.5 1944.5,424.0 1945.0,445.4 1945.5,424.6 1946.0,445.0 1946.5,425.2 1947.0,442.2 1947.5,420.7 1948.0,442.0 1948.5,414.9 1949.0,440.8 1949.5,424.7 1950.0,441.1 1950.5,425.4 1951.0,440.6 1951.5,423.9 1952.0,441.5 1952.5,408.0 1953.0,447.7 1953.5,426.4 1954.0,441.2 1954.5,426.9 1955.0,443.4 1955.5,422.5 1956.0,443.8 1956.5,423.8 1957.0,438.7 1957.5,424.3 1958.0,439.6 1958.5,418.6 1959.0,439.8 1959.5,425.5 1960.0,448.0 1960.5,423.4 1961.0,441.9 1961.5,426.5 1962.0,442.0 1962.5,425.2 1963.0,441.7 1963.5,425.1 1964.0,442.7 1964.5,424.9 1965.0,440.3 1965.5,421.8 1966.0,442.8 1966.5,426.4 1967.0,442.5 1967.5,421.4 1968.0,441.7 1968.5,425.6 1969.0,441.5 1969.5,423.2 1970.0,440.6 1970.5,424.4 1971.0,445.7 1971.5,423.2 1972.0,444.0 1972.5,414.5 1973.0,445.0 1973.5,422.8 1974.0,447.0 1974.5,415.9 1975.0,412.0 1975.5,425.8 1976.0,441.1 1976.5,425.1 1977.0,442.1 1977.5,424.6 1978.0,443.9 1978.5,425.1 1979.0,445.8 1979.5,424.6 1980.0,444.3 1980.5,424.2 1981.0,444.7 1981.5,425.0 1982.0,442.2 1982.5,425.4 1983.0,439.9 1983.5,421.8 1984.0,444.0 1984.5,422.8 1985.0,440.3 1985.5,422.2 1986.0,439.5 1986.5,424.6 1987.0,442.4 1987.5,425.2 1988.0,441.4 1988.5,422.8 1989.0,444.2 1989.5,423.3 1990.0,441.4 1990.5,419.3 1991.0,442.6 1991.5,422.4 1992.0,447.6 1992.5,420.4 1993.0,442.6 1993.5,426.7 1994.0,436.9 1994.5,425.8 1995.0,439.8 1995.5,424.1 1996.0,446.5 1996.5,426.1 1997.0,387.0 1997.5,419.5 1998.0,439.5 1998.5,426.1 1999.0,443.1 1999.5,421.5 2000.0,441.5 2000.5,420.8 2001.0,445.1 2001.5,424.8 2002.0,445.3 2002.5,425.8 2003.0,441.0 2003.5,422.7 2004.0,447.0 2004.5,423.5 2005.0,440.7 2005.5,421.5 2006.0,439.3 2006.5,421.5 2007.0,438.5 2007.5,416.0 2008.0,439.0 2008.5,427.2 2009.0,438.8 2009.5,423.8 2010.0,412.0 2010.5,419.3 2011.0,443.0 2011.5,422.7 2012.0,441.3 2012.5,413.9 2013.0,440.7 2013.5,423.1 2014.0,440.8 2014.5,421.1 2015.0,442.2 2015.5,420.2 2016.0,437.6 2016.5,424.7 2017.0,439.7 2017.5,422.7 2018.0,449.4 2018.5,421.4 2019.0,450.7 2019.5,420.9 2020.0,441.9 2020.5,421.6 2021.0,439.1 2021.5,423.2 2022.0,438.9 2022.5,421.0 2023.0,440.5 2023.5,422.9 2024.0,438.5 2024.5,423.9 2025.0,450.8 2025.5,425.8 2026.0,441.8 2026.5,415.2 2027.0,439.9 2027.5,422.0 2028.0,441.4 2028.5,417.4 2029.0,444.9 2029.5,421.7 2030.0,442.6 2030.5,424.1 2031.0,439.1 2031.5,421.5 2032.0,449.7 2032.5,422.7 2033.0,441.0 2033.5,425.0 2034.0,437.2 2034.5,472.0 2035.0,443.6 2035.5,424.9 2036.0,442.6 2036.5,419.3 2037.0,440.9 2037.5,422.9 2038.0,441.0 2038.5,419.0 2039.0,441.9 2039.5,424.0 2040.0,447.8 2040.5,419.9 2041.0,443.2 2041.5,425.7 2042.0,438.5 2042.5,424.2 2043.0,438.1 2043.5,419.7 2044.0,437.7 2044.5,422.2 2045.0,412.0 2045.5,427.0 2046.0,435.8 2046.5,426.0 2047.0,439.7 2047.5,422.5 2048.0,439.8 2048.5,423.2 2049.0,439.8 2049.5,420.4 2050.0,441.1 2050.5,422.7 2051.0,440.5 2051.5,423.0 2052.0,439.0 2052.5,425.2 2053.0,440.7 2053.5,426.3 2054.0,437.1 2054.5,424.4" fill="none" stroke="#0072BD" stroke-width="3.9" stroke-linejoin="round" stroke-linecap="butt"/>
<!-- panel b -->
<path d="M346.00 1578.00v-20M346.00 1102.00v20M536.75 1578.00v-20M536.75 1102.00v20M727.50 1578.00v-20M727.50 1102.00v20M918.25 1578.00v-20M918.25 1102.00v20M1109.00 1578.00v-20M1109.00 1102.00v20M1299.75 1578.00v-20M1299.75 1102.00v20M1490.50 1578.00v-20M1490.50 1102.00v20M1681.25 1578.00v-20M1681.25 1102.00v20M1872.00 1578.00v-20M1872.00 1102.00v20M231.00 1578.00h20M2062.50 1578.00h-20M231.00 1387.50h20M2062.50 1387.50h-20M231.00 1197.00h20M2062.50 1197.00h-20" stroke="#262626" stroke-width="4.17" fill="none"/>
<rect x="231.00" y="1102.00" width="1831.50" height="476.00" fill="none" stroke="#262626" stroke-width="4.17"/>
<g font-size="66.67" fill="#262626">
<g text-anchor="middle">
<text transform="translate(346.00 1674.50) scale(1 1.035)">0.2</text>
<text transform="translate(536.75 1674.50) scale(1 1.035)">0.4</text>
<text transform="translate(727.50 1674.50) scale(1 1.035)">0.6</text>
<text transform="translate(918.25 1674.50) scale(1 1.035)">0.8</text>
<text transform="translate(1109.00 1674.50) scale(1 1.035)">1</text>
<text transform="translate(1299.75 1674.50) scale(1 1.035)">1.2</text>
<text transform="translate(1490.50 1674.50) scale(1 1.035)">1.4</text>
<text transform="translate(1681.25 1674.50) scale(1 1.035)">1.6</text>
<text transform="translate(1872.00 1674.50) scale(1 1.035)">1.8</text>
</g><g text-anchor="end">
<text transform="translate(205.00 1605.50) scale(1 1.035)">0</text>
<text transform="translate(205.00 1415.00) scale(1 1.035)">20</text>
<text transform="translate(205.00 1224.50) scale(1 1.035)">40</text>
</g></g>
<g font-size="74" fill="#262626" text-anchor="middle">
<text transform="translate(1146.75 1772.50) scale(1 1.035)">Frequency (Hz)</text>
<text transform="translate(1146.75 1870.00) scale(1 1.035)">(b)</text>
<text transform="translate(96.50 1341.00) rotate(-90) scale(1 1.035)">Amplitude (a.u.)</text>
</g>
<polyline points="231.0,1577.2 242.5,1576.9 257.1,1576.9 271.7,1576.9 286.3,1576.9 300.9,1575.0 315.6,1560.4 330.2,1517.4 344.8,1537.5 359.4,1558.2 374.0,1552.8 388.7,1567.2 403.3,1546.9 417.9,1577.5 432.5,1552.8 447.1,1572.0 461.8,1531.5 476.4,1555.1 491.0,1109.8 505.6,1480.1 520.2,1485.9 534.9,1546.9 549.5,1539.9 564.1,1558.2 578.7,1549.5 593.3,1555.1 608.0,1569.4 622.6,1567.2 637.2,1573.6 651.8,1566.9 666.4,1564.0 681.1,1576.9 695.7,1577.8 710.3,1578.0 724.9,1578.0 2062.5,1578.0" fill="none" stroke="#0072BD" stroke-width="4.17" stroke-linejoin="round"/>
<!-- panel c -->
<path d="M384.00 2456.00v-20M384.00 1975.00v20M689.20 2456.00v-20M689.20 1975.00v20M994.40 2456.00v-20M994.40 1975.00v20M1299.60 2456.00v-20M1299.60 1975.00v20M1604.80 2456.00v-20M1604.80 1975.00v20M1910.00 2456.00v-20M1910.00 1975.00v20M231.00 2438.00h20M2062.50 2438.00h-20M231.00 2227.50h20M2062.50 2227.50h-20M231.00 2017.00h20M2062.50 2017.00h-20" stroke="#262626" stroke-width="4.17" fill="none"/>
<rect x="231.00" y="1975.00" width="1831.50" height="481.00" fill="none" stroke="#262626" stroke-width="4.17"/>
<g font-size="66.67" fill="#262626">
<g text-anchor="middle">
<text transform="translate(384.00 2552.50) scale(1 1.035)">10</text>
<text transform="translate(689.20 2552.50) scale(1 1.035)">12</text>
<text transform="translate(994.40 2552.50) scale(1 1.035)">14</text>
<text transform="translate(1299.60 2552.50) scale(1 1.035)">16</text>
<text transform="translate(1604.80 2552.50) scale(1 1.035)">18</text>
<text transform="translate(1910.00 2552.50) scale(1 1.035)">20</text>
</g><g text-anchor="end">
<text transform="translate(205.00 2465.50) scale(1 1.035)">10</text>
<text transform="translate(205.00 2255.00) scale(1 1.035)">15</text>
<text transform="translate(205.00 2044.50) scale(1 1.035)">20</text>
</g></g>
<g font-size="74" fill="#262626" text-anchor="middle">
<text transform="translate(1146.75 2649.50) scale(1 1.035)">Reference BR (BPM)</text>
<text transform="translate(1146.75 2747.00) scale(1 1.035)">(c)</text>
<text transform="translate(97.00 2216.50) rotate(-90) scale(1 1.035)">Estimated BR (BPM)</text>
</g>
<rect x="359.00" y="2413.00" width="50" height="50" fill="none" stroke="#0000FF" stroke-width="4.17"/>
<rect x="816.80" y="2286.70" width="50" height="50" fill="none" stroke="#0000FF" stroke-width="4.17"/>
<rect x="1122.00" y="2202.50" width="50" height="50" fill="none" stroke="#0000FF" stroke-width="4.17"/>
<rect x="1427.20" y="2118.30" width="50" height="50" fill="none" stroke="#0000FF" stroke-width="4.17"/>
<rect x="1885.00" y="1992.00" width="50" height="50" fill="none" stroke="#0000FF" stroke-width="4.17"/>
<rect x="369.40" y="2440.91" width="29.2" height="29.2" fill="#0000FF"/>
<rect x="827.20" y="2267.63" width="29.2" height="29.2" fill="#0000FF"/>
<rect x="1132.40" y="2192.27" width="29.2" height="29.2" fill="#0000FF"/>
<rect x="1437.60" y="2115.65" width="29.2" height="29.2" fill="#0000FF"/>
<rect x="1895.40" y="1960.93" width="29.2" height="29.2" fill="#0000FF"/>
<rect x="269.5" y="1982" width="50" height="50" fill="none" stroke="#0000FF" stroke-width="4.17"/>
<rect x="279.9" y="2075.9" width="29.2" height="29.2" fill="#0000FF"/>
<g font-size="60" fill="#000"><text transform="translate(394.5 2029.5) scale(1 1.035)">Reference</text><text transform="translate(394.5 2114) scale(1 1.035)">Estimated</text></g>
</svg>
</body></html>
